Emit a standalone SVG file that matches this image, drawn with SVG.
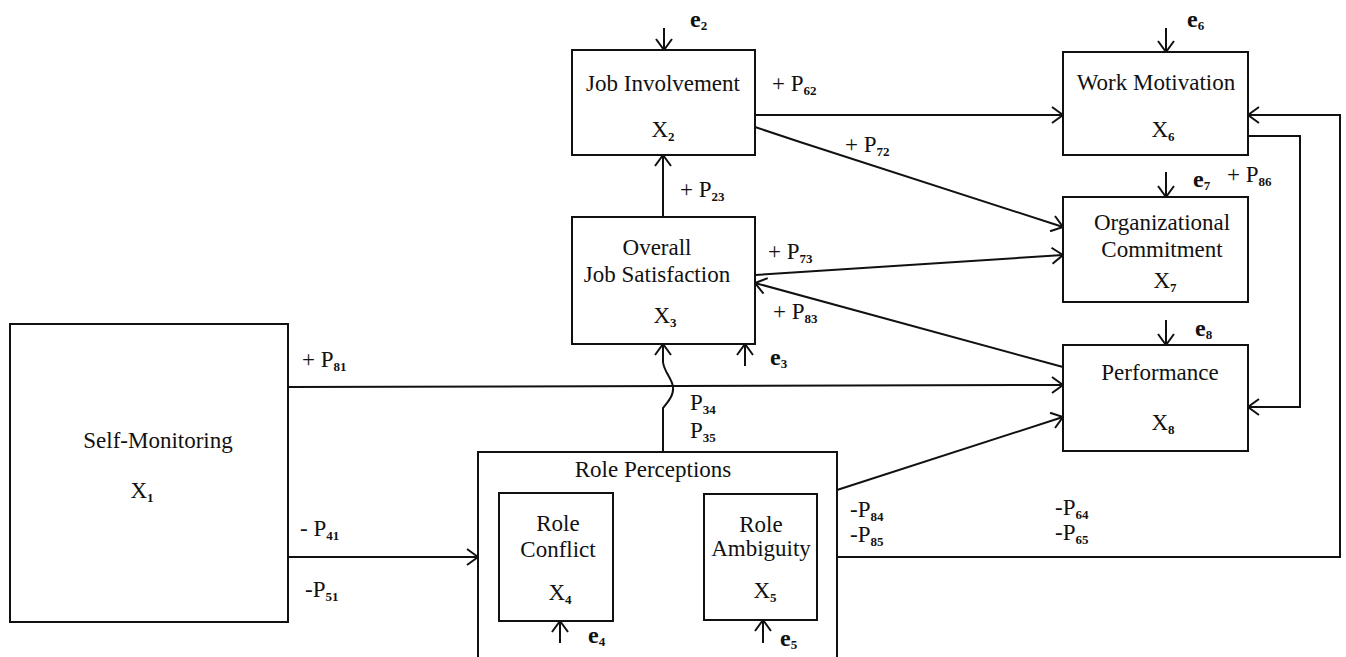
<svg xmlns="http://www.w3.org/2000/svg" width="1346" height="657" viewBox="0 0 1346 657">
<defs>
<style>
.box{fill:#fff;stroke:#111;stroke-width:2}
.t{font-family:"Liberation Serif","Times New Roman",serif;font-size:23px;fill:#111;text-anchor:middle}
.l{font-family:"Liberation Serif","Times New Roman",serif;font-size:23px;fill:#111}
.e{font-family:"Liberation Serif","Times New Roman",serif;font-size:24px;font-weight:bold;fill:#111}
.s{font-size:13px;font-weight:bold}
.c{fill:none;stroke:#111;stroke-width:2}
</style>
<marker id="a" markerUnits="userSpaceOnUse" viewBox="0 0 13 18" markerWidth="13" markerHeight="18" refX="12" refY="9" orient="auto">
<path d="M1,1 L12,9 L1,17" fill="none" stroke="#111" stroke-width="2"/>
</marker>
</defs>
<rect width="1346" height="657" fill="#fff"/>

<g id="job-involvement">
<rect class="box" x="572" y="50" width="183" height="105"/>
<text class="t" x="663" y="91">Job Involvement</text>
<text class="t" x="663" y="137">X<tspan class="s" dy="4">2</tspan></text>
</g>
<g id="work-motivation">
<rect class="box" x="1063" y="52" width="185" height="103"/>
<text class="t" x="1156" y="90">Work Motivation</text>
<text class="t" x="1163" y="137">X<tspan class="s" dy="4">6</tspan></text>
</g>
<g id="organizational-commitment">
<rect class="box" x="1063" y="197" width="185" height="105"/>
<text class="t" x="1162" y="230">Organizational</text>
<text class="t" x="1162" y="257">Commitment</text>
<text class="t" x="1165" y="288">X<tspan class="s" dy="4">7</tspan></text>
</g>
<g id="performance">
<rect class="box" x="1063" y="345" width="185" height="106"/>
<text class="t" x="1160" y="380">Performance</text>
<text class="t" x="1163" y="430">X<tspan class="s" dy="4">8</tspan></text>
</g>
<g id="overall-job-satisfaction">
<rect class="box" x="572" y="217" width="183" height="127"/>
<text class="t" x="657" y="255">Overall</text>
<text class="t" x="657" y="282">Job Satisfaction</text>
<text class="t" x="665" y="323">X<tspan class="s" dy="4">3</tspan></text>
</g>
<g id="self-monitoring">
<rect class="box" x="10" y="324" width="278" height="298"/>
<text class="t" x="158" y="448">Self-Monitoring</text>
<text class="t" x="142" y="498">X<tspan class="s" dy="4">1</tspan></text>
</g>
<g id="role-perceptions">
<path class="box" d="M478,670 L478,452 L837,452 L837,670"/>
<text class="t" x="653" y="477">Role Perceptions</text>
</g>
<g id="role-conflict">
<rect class="box" x="499" y="493" width="114" height="128"/>
<text class="t" x="558" y="531">Role</text>
<text class="t" x="558" y="557">Conflict</text>
<text class="t" x="560" y="600">X<tspan class="s" dy="4">4</tspan></text>
</g>
<g id="role-ambiguity">
<rect class="box" x="704" y="494" width="113" height="126"/>
<text class="t" x="761" y="532">Role</text>
<text class="t" x="761" y="556">Ambiguity</text>
<text class="t" x="765" y="598">X<tspan class="s" dy="4">5</tspan></text>
</g>

<g id="connectors">
<line class="c" x1="664" y1="28" x2="664" y2="50" marker-end="url(#a)"/>
<line class="c" x1="1166" y1="28" x2="1166" y2="52" marker-end="url(#a)"/>
<line class="c" x1="1166" y1="172" x2="1166" y2="197" marker-end="url(#a)"/>
<line class="c" x1="1166" y1="320" x2="1166" y2="345" marker-end="url(#a)"/>
<line class="c" x1="745" y1="366" x2="745" y2="344" marker-end="url(#a)"/>
<line class="c" x1="560" y1="643" x2="560" y2="621" marker-end="url(#a)"/>
<line class="c" x1="763" y1="643" x2="763" y2="620" marker-end="url(#a)"/>
<line class="c" x1="663" y1="217" x2="663" y2="155" marker-end="url(#a)"/>
<line class="c" x1="755" y1="115" x2="1063" y2="115" marker-end="url(#a)"/>
<polyline class="c" points="755,127 800,142 1063,227" marker-end="url(#a)"/>
<line class="c" x1="755" y1="275" x2="1063" y2="255" marker-end="url(#a)"/>
<line class="c" x1="1063" y1="367" x2="755" y2="283" marker-end="url(#a)"/>
<line class="c" x1="288" y1="387" x2="1063" y2="385" marker-end="url(#a)"/>
<line class="c" x1="288" y1="557" x2="478" y2="557" marker-end="url(#a)"/>
<path class="c" d="M663,452 L663,408 C668,402 674,395 673,387 C672,378 664,372 663,362 L663,344" marker-end="url(#a)"/>
<line class="c" x1="837" y1="490" x2="1063" y2="417" marker-end="url(#a)"/>
<polyline class="c" points="837,557 1340,557 1340,115 1248,115" marker-end="url(#a)"/>
<polyline class="c" points="1248,136 1300,136 1300,407 1248,407" marker-end="url(#a)"/>
</g>

<g id="labels">
<text class="e" x="690" y="27">e<tspan class="s" dy="3">2</tspan></text>
<text class="e" x="1187" y="27">e<tspan class="s" dy="3">6</tspan></text>
<text class="e" x="1193" y="187">e<tspan class="s" dy="3">7</tspan></text>
<text class="e" x="1195" y="336">e<tspan class="s" dy="3">8</tspan></text>
<text class="e" x="770" y="365">e<tspan class="s" dy="3">3</tspan></text>
<text class="e" x="588" y="643">e<tspan class="s" dy="3">4</tspan></text>
<text class="e" x="780" y="646">e<tspan class="s" dy="3">5</tspan></text>
<text class="l" x="772" y="91">+ P<tspan class="s" dy="4">62</tspan></text>
<text class="l" x="845" y="152">+ P<tspan class="s" dy="4">72</tspan></text>
<text class="l" x="680" y="197">+ P<tspan class="s" dy="4">23</tspan></text>
<text class="l" x="768" y="259">+ P<tspan class="s" dy="4">73</tspan></text>
<text class="l" x="773" y="319">+ P<tspan class="s" dy="4">83</tspan></text>
<text class="l" x="1227" y="182">+ P<tspan class="s" dy="4">86</tspan></text>
<text class="l" x="302" y="367">+ P<tspan class="s" dy="4">81</tspan></text>
<text class="l" x="690" y="410">P<tspan class="s" dy="4">34</tspan></text>
<text class="l" x="690" y="438">P<tspan class="s" dy="4">35</tspan></text>
<text class="l" x="300" y="536">- P<tspan class="s" dy="4">41</tspan></text>
<text class="l" x="305" y="597">-P<tspan class="s" dy="4">51</tspan></text>
<text class="l" x="850" y="517">-P<tspan class="s" dy="4">84</tspan></text>
<text class="l" x="850" y="542">-P<tspan class="s" dy="4">85</tspan></text>
<text class="l" x="1055" y="515">-P<tspan class="s" dy="4">64</tspan></text>
<text class="l" x="1055" y="540">-P<tspan class="s" dy="4">65</tspan></text>
</g>
</svg>
